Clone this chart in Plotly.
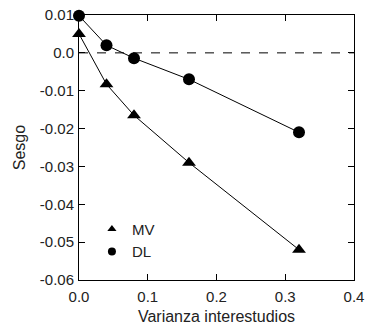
import plotly.graph_objects as go

x_vals = [0.0, 0.04, 0.08, 0.16, 0.32]
mv_vals = [0.005, -0.0083, -0.0165, -0.029, -0.052]
dl_vals = [0.0098, 0.002, -0.0014, -0.007, -0.021]
x_ticks = [0.0, 0.1, 0.2, 0.3, 0.4]
x_ticktext = ["0.0", "0.1", "0.2", "0.3", "0.4"]
y_ticks = [0.01, 0.0, -0.01, -0.02, -0.03, -0.04, -0.05, -0.06]
y_ticktext = ["0.01", "0.0", "-0.01", "-0.02", "-0.03", "-0.04", "-0.05", "-0.06"]

FONT = "Liberation Sans, Arial"

fig = go.Figure()
fig.add_trace(go.Scatter(x=[0, 0.4], y=[0, 0], mode="lines",
                         line=dict(color="black", width=1, dash="dash"),
                         showlegend=False, hoverinfo="skip"))
fig.add_trace(go.Scatter(x=x_vals, y=mv_vals, mode="lines+markers", name="MV",
                         line=dict(color="black", width=1),
                         marker=dict(symbol="triangle-up", size=12, color="black"),
                         showlegend=False, cliponaxis=False))
fig.add_trace(go.Scatter(x=x_vals, y=dl_vals, mode="lines+markers", name="DL",
                         line=dict(color="black", width=1),
                         marker=dict(symbol="circle", size=12, color="black"),
                         showlegend=False, cliponaxis=False))
# legend entries (markers only)
fig.add_trace(go.Scatter(x=[None], y=[None], mode="markers", name="MV",
                         marker=dict(symbol="triangle-up", size=8, color="black")))
fig.add_trace(go.Scatter(x=[None], y=[None], mode="markers", name="DL",
                         marker=dict(symbol="circle", size=8, color="black")))

axis_common = dict(showline=True, linecolor="black", linewidth=1, mirror="allticks",
                   ticks="inside", ticklen=6, tickcolor="black", showgrid=False,
                   zeroline=False, automargin=False,
                   tickfont=dict(family=FONT, size=15, color="#222"))
fig.update_xaxes(range=[0, 0.4], tickvals=x_ticks, ticktext=x_ticktext,
                 ticklabelstandoff=3,
                 title=dict(text="Varianza interestudios", standoff=6,
                            font=dict(family=FONT, size=16, color="#222")),
                 **axis_common)
fig.update_yaxes(range=[-0.06, 0.01], tickvals=y_ticks, ticktext=y_ticktext,
                 ticklabelstandoff=1,
                 title=dict(text="Sesgo", standoff=10,
                            font=dict(family=FONT, size=16, color="#222")),
                 **axis_common)
fig.update_layout(width=370, height=331, margin=dict(l=79, r=16, t=15, b=51),
                  plot_bgcolor="white", paper_bgcolor="white",
                  font=dict(family=FONT, size=15, color="#222"),
                  legend=dict(x=0.047, y=0.15, xanchor="left", yanchor="middle",
                              bgcolor="rgba(0,0,0,0)", font=dict(size=15),
                              itemwidth=30, tracegroupgap=0))
fig.write_html("out.html")
